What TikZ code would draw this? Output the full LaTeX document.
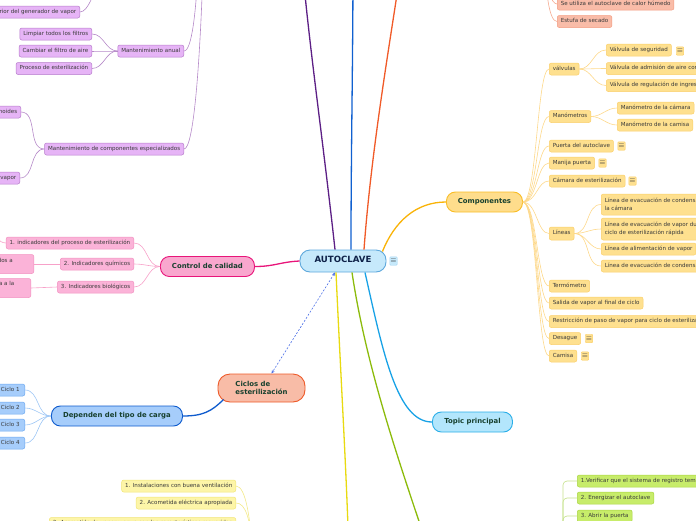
\documentclass[tikz,border=0pt]{standalone}
\usepackage{fontspec}
\setmainfont{DejaVu Sans}
\usetikzlibrary{calc,arrows.meta}
\definecolor{smtxt}{HTML}{3A3A3A}
\definecolor{bigtxt}{HTML}{17402E}
\definecolor{navy}{HTML}{0E2148}
\definecolor{autofill}{HTML}{C6E9FB}
\definecolor{autodraw}{HTML}{5EA8DC}
\definecolor{pkmain}{HTML}{E8157A}
\definecolor{pkfill}{HTML}{F9A7CE}
\definecolor{pkcfill}{HTML}{FBB3D8}
\definecolor{pkcdraw}{HTML}{F291C0}
\definecolor{pkline}{HTML}{F7A1C9}
\definecolor{cycfill}{HTML}{F8BCA7}
\definecolor{cycdraw}{HTML}{EE5A29}
\definecolor{blmain}{HTML}{0E5BCD}
\definecolor{blfill}{HTML}{A6CDFB}
\definecolor{blcdraw}{HTML}{6BA8F0}
\definecolor{blline}{HTML}{9DC6F5}
\definecolor{tpfill}{HTML}{B3E6FC}
\definecolor{tpdraw}{HTML}{2AAEE8}
\definecolor{tpline}{HTML}{18A2E6}
\definecolor{ormain}{HTML}{F9B308}
\definecolor{orfill}{HTML}{FEDD8C}
\definecolor{ordraw}{HTML}{F9BD26}
\definecolor{orcfill}{HTML}{FEE08F}
\definecolor{orcdraw}{HTML}{FBCF6A}
\definecolor{orline}{HTML}{FDD88A}
\definecolor{pumain}{HTML}{5C1F85}
\definecolor{pufill}{HTML}{E6B4F6}
\definecolor{pudraw}{HTML}{B67CCB}
\definecolor{puline}{HTML}{B589C8}
\definecolor{rdmain}{HTML}{F05A28}
\definecolor{rdfill}{HTML}{F9BCA8}
\definecolor{rddraw}{HTML}{F39B80}
\definecolor{rdline}{HTML}{F5A98F}
\definecolor{dbmain}{HTML}{1060D0}
\definecolor{yemain}{HTML}{E8DA10}
\definecolor{yefill}{HTML}{FDF5A8}
\definecolor{yedraw}{HTML}{F1E576}
\definecolor{yeline}{HTML}{F3E98A}
\definecolor{grmain}{HTML}{8CBB0B}
\definecolor{grfill}{HTML}{C7EC6A}
\definecolor{grdraw}{HTML}{A9D542}
\definecolor{grline}{HTML}{C5E18A}
\definecolor{dashc}{HTML}{4B6EE6}
\begin{document}
\begin{tikzpicture}[x=1pt,y=-1pt,
  sm/.style={draw, rounded corners=2pt, line width=0.5pt, font=\fontsize{5.55}{6.6}\selectfont, text=smtxt, inner xsep=3.5pt, inner ysep=0pt, minimum height=12pt, text height=4.1pt, text depth=1.3pt},
  smtwo/.style={draw, rounded corners=2pt, line width=0.5pt, font=\fontsize{5.55}{7.7}\selectfont, text=smtxt, inner xsep=3.5pt, inner ysep=2.4pt, align=left},
  big/.style={draw, rounded corners=9pt, line width=0.9pt, font=\fontsize{6.9}{8.5}\selectfont\bfseries, text=bigtxt, minimum height=20pt, inner sep=0pt, text height=5pt, text depth=1.5pt},
  icon/.style={draw, rounded corners=1pt, line width=0.4pt, minimum width=7.5pt, minimum height=8.5pt, inner sep=0pt, text=smtxt, font=\fontsize{7.5}{7.5}\selectfont},
  mline/.style={line width=1.3pt},
  cline/.style={line width=0.6pt},
  pk/.style={sm, fill=pkcfill, draw=pkcdraw},
  pu/.style={sm, fill=pufill, draw=pudraw},
  bl/.style={sm, fill=blfill, draw=blcdraw},
  orc/.style={sm, fill=orcfill, draw=orcdraw},
  orc2/.style={smtwo, fill=orcfill, draw=orcdraw},
  rd/.style={sm, fill=rdfill, draw=rddraw},
  ye/.style={sm, fill=yefill, draw=yedraw},
  gr/.style={sm, fill=grfill, draw=grdraw},
]
\useasboundingbox (0,0) rectangle (696,520);
\clip (0,0) rectangle (696,520);

% ---------- off-screen parents ----------
\coordinate (topPu) at (302,-40);
\coordinate (topBl) at (353,-40);
\coordinate (topRd) at (402,-40);
\coordinate (botYe) at (349,560);
\coordinate (botGr) at (432,560);
\coordinate (puParA) at (97,-20);
\coordinate (puParB) at (198,-30);
\coordinate (puParC) at (203,-30);
\coordinate (rdPar) at (546,-25);
\coordinate (yePar) at (252,545);
\coordinate (grPar) at (563,545);
\coordinate (pkPar) at (-12,234);

% ---------- central ----------
\node[big, font=\fontsize{8.6}{10}\selectfont\bfseries, text=navy, fill=autofill, draw=autodraw, minimum width=86pt, minimum height=22pt, rounded corners=10pt] (auto) at (343,261) {AUTOCLAVE};
\node[icon, fill=autofill, draw=autofill!70!autodraw] (autoic) at (393.5,261) {$\equiv$};

% ---------- main branches ----------
\node[big, fill=pkfill, draw=pkmain, minimum width=94pt, anchor=west] (ctrl) at (160,266.5) {Control de calidad};
\node[big, fill=orfill, draw=ordraw, minimum width=76pt, anchor=west] (comp) at (446,202) {Componentes};
\node[big, fill=tpfill, draw=tpdraw, minimum width=80pt, anchor=west] (topic) at (432,422) {Topic principal};
\node[draw=cycdraw, fill=cycfill, line width=0.9pt, rounded corners=12pt, minimum width=87pt, minimum height=28pt, inner sep=0pt, align=left, font=\fontsize{6.9}{8.6}\selectfont\bfseries, text=bigtxt] (cyc) at (261.5,388) {Ciclos de\\esterilización};
\node[big, fill=blfill, draw=blmain, minimum width=131pt, anchor=west] (dep) at (51,416) {Dependen del tipo de carga};

% main connectors
\draw[mline, pkmain] (auto.west) .. controls +(-20,1) and +(20,0) .. (ctrl.east);
\draw[mline, ormain] ($(auto.north east)+(-4,2)$) .. controls +(12,-30) and +(-30,0) .. (comp.west);
\draw[mline, tpline] ($(auto.south)+(22,0)$) .. controls +(18,80) and +(-35,0) .. (topic.west);
\draw[mline, pumain] ($(auto.north)+(-8,0)$) .. controls +(-12,-110) and +(5,70) .. (topPu);
\draw[mline, dbmain] ($(auto.north)+(8,0)$) .. controls +(0,-100) and +(0,100) .. (topBl);
\draw[mline, rdmain] ($(auto.north)+(21,0)$) .. controls +(8,-110) and +(-8,60) .. (topRd);
\draw[mline, yemain] ($(auto.south)+(-7,0)$) .. controls +(5,110) and +(-2,-80) .. (botYe);
\draw[mline, grmain] ($(auto.south)+(9,0)$) .. controls +(15,100) and +(-30,-90) .. (botGr);
\draw[line width=0.6pt, dashc, dash pattern=on 2pt off 1.6pt, {Stealth[length=3.5pt,width=3pt]}-{Stealth[length=3.5pt,width=3pt]}] ($(auto.south)+(-8,0)$) -- ($(cyc.north)+(10,0)$);
\draw[mline, blmain] ($(cyc.south west)+(6,-3)$) .. controls +(-12,12) and +(20,0) .. (dep.east);

% ---------- Control de calidad children ----------
\node[pk, anchor=east] (c1) at (134,243) {1. indicadores del proceso de esterilización};
\node[pk, anchor=east] (c2) at (134,264) {2. Indicadores químicos};
\node[pk, anchor=east] (c3) at (134,287) {3. Indicadores biológicos};
\node[pk, anchor=east, minimum width=60pt, minimum height=19pt, text height=, text depth=] (c2a) at (34,264) {};
\node[anchor=east, inner sep=0pt, font=\fontsize{5.55}{6.6}\selectfont, text=smtxt] (c2at) at (13,260.5) {dos a};
\node[pk, anchor=east, minimum width=60pt, minimum height=19pt, text height=, text depth=] (c3a) at (31,288) {};
\node[anchor=east, inner sep=0pt, font=\fontsize{5.55}{6.6}\selectfont, text=smtxt] (c3at) at (14.5,283.5) {a a la};
\foreach \c in {c1,c2,c3}{\draw[cline, pkline] (ctrl.west) to[out=180,in=0] (\c.east);}
\draw[cline, pkline] (c2.west) -- (c2a.east);
\draw[cline, pkline] (c3.west) -- (c3a.east);
\draw[cline, pkline] (c1.west) to[out=180,in=0] (pkPar);

% ---------- Ciclos ----------
\node[bl, anchor=east, minimum width=29pt] (k1) at (25,390) {Ciclo 1};
\node[bl, anchor=east, minimum width=29pt] (k2) at (25,408) {Ciclo 2};
\node[bl, anchor=east, minimum width=29pt] (k3) at (25,425) {Ciclo 3};
\node[bl, anchor=east, minimum width=29pt] (k4) at (25,443) {Ciclo 4};
\foreach \k in {k1,k2,k3,k4}{\draw[cline, blline] (dep.west) to[out=180,in=0] (\k.east);}

% ---------- Componentes children ----------
\node[orc, anchor=west] (valv) at (549,69) {válvulas};
\node[orc, anchor=west] (mano) at (549,116.5) {Manómetros};
\node[orc, anchor=west] (puerta) at (549,146) {Puerta del autoclave};
\node[orc, anchor=west] (manija) at (549,163) {Manija puerta};
\node[orc, anchor=west] (camara) at (549,181) {Cámara de esterilización};
\node[orc, anchor=west, minimum height=13pt] (lineas) at (549,233.5) {Líneas};
\node[orc, anchor=west] (termo) at (549,286) {Termómetro};
\node[orc, anchor=west] (salida) at (549,303) {Salida de vapor al final de ciclo};
\node[orc, anchor=west] (restr) at (549,321.5) {Restricción de paso de vapor para ciclo de esterilización rápida};
\node[orc, anchor=west] (desag) at (549,338.5) {Desague};
\node[orc, anchor=west] (camisa) at (549,356) {Camisa};
\node[icon, fill=orcfill, draw=orcdraw] (ic1) at (621.5,146) {$\equiv$};
\node[icon, fill=orcfill, draw=orcdraw] (ic2) at (602.5,163) {$\equiv$};
\node[icon, fill=orcfill, draw=orcdraw] (ic3) at (632.5,181) {$\equiv$};
\node[icon, fill=orcfill, draw=orcdraw] (ic4) at (589,338.5) {$\equiv$};
\node[icon, fill=orcfill, draw=orcdraw] (ic5) at (585,356) {$\equiv$};
\foreach \c in {valv,mano,puerta,manija,camara,lineas,termo,salida,restr,desag,camisa}{\draw[cline, orline] (comp.east) .. controls +(14,0) and +(-12,0) .. (\c.west);}

\node[orc, anchor=west] (v1) at (606,50) {Válvula de seguridad};
\node[orc, anchor=west] (v2) at (606,68.5) {Válvula de admisión de aire comprimido};
\node[orc, anchor=west] (v3) at (606,85.5) {Válvula de regulación de ingreso de vapor};
\node[icon, fill=orcfill, draw=orcdraw] (ic0) at (680,51) {$\equiv$};
\foreach \c in {v1,v2,v3}{\draw[cline, orline] (valv.east) to[out=0,in=180] (\c.west);}

\node[orc, anchor=west] (m1) at (617,108) {Manómetro de la cámara};
\node[orc, anchor=west] (m2) at (617,125) {Manómetro de la camisa};
\foreach \c in {m1,m2}{\draw[cline, orline] (mano.east) to[out=0,in=180] (\c.west);}

\node[orc2, anchor=west, minimum height=21pt] (l1) at (601,204.5) {Línea de evacuación de condensado de\\la cámara};
\node[orc2, anchor=west, minimum height=22pt] (l2) at (601,229) {Línea de evacuación de vapor durante el\\ciclo  de esterilización rápida};
\node[orc, anchor=west] (l3) at (601,249) {Línea de alimentación de vapor};
\node[orc, anchor=west] (l4) at (601,266) {Línea de evacuación de condensado};
\foreach \c in {l1,l2,l3,l4}{\draw[cline, orline] (lineas.east) to[out=0,in=180] (\c.west);}

% ---------- top right (red-orange) ----------
\node[rd, anchor=west] (r1) at (557,4) {Se utiliza el autoclave de calor húmedo};
\node[rd, anchor=west] (r2) at (557,21.5) {Estufa de secado};
\draw[cline, rdline] (r1.west) .. controls +(-6,0) and +(0,10) .. (rdPar);
\draw[cline, rdline] (r2.west) .. controls +(-8,0) and +(0,15) .. (rdPar);

% ---------- purple ----------
\node[pu, anchor=east] (p0) at (80,12) {Limpieza interior del generador de vapor};
\node[pu, anchor=east] (pa) at (184,51) {Mantenimiento anual};
\node[pu, anchor=east] (pa1) at (92,34) {Limpiar todos los filtros};
\node[pu, anchor=east] (pa2) at (92,51) {Cambiar el filtro de aire};
\node[pu, anchor=east] (pa3) at (92,68.5) {Proceso de esterilización};
\node[pu, anchor=east] (pb) at (184,149) {Mantenimiento de componentes especializados};
\node[pu, anchor=east] (pb1) at (21,112) {Solenoides};
\node[pu, anchor=east] (pb2) at (20,178) {Generador de vapor};
\foreach \c in {pa1,pa2,pa3}{\draw[cline, puline] (pa.west) to[out=180,in=0] (\c.east);}
\foreach \c in {pb1,pb2}{\draw[cline, puline] (pb.west) to[out=180,in=0] (\c.east);}
\draw[cline, puline] (p0.east) .. controls +(8,0) and +(-2,12) .. (puParA);
\draw[cline, puline] (pa.east) .. controls +(8,0) and +(-2,40) .. (puParB);
\draw[cline, puline] (pb.east) .. controls +(10,0) and +(-3,90) .. (puParC);

% ---------- bottom yellow ----------
\node[ye, anchor=east] (y1) at (236,486) {1. Instalaciones con buena ventilación};
\node[ye, anchor=east] (y2) at (236,503) {2. Acometida eléctrica apropiada};
\node[ye, anchor=east, minimum width=183pt] (y3) at (236,523.5) {3. Acometida de vapor y agua con las características requeridas};
\foreach \c in {y1,y2,y3}{\draw[cline, yeline] (\c.east) .. controls +(10,0) and +(-2,-25) .. (yePar);}

% ---------- bottom green ----------
\node[gr, anchor=west] (g1) at (577,481) {1.Verificar que el sistema de registro temperatura funcione};
\node[gr, anchor=west] (g2) at (577,498) {2. Energizar el autoclave};
\node[gr, anchor=west] (g3) at (577,516) {3. Abrir la puerta};
\foreach \c in {g1,g2,g3}{\draw[cline, grline, rounded corners=4pt] (\c.west) -| (grPar);}
\end{tikzpicture}
\end{document}
